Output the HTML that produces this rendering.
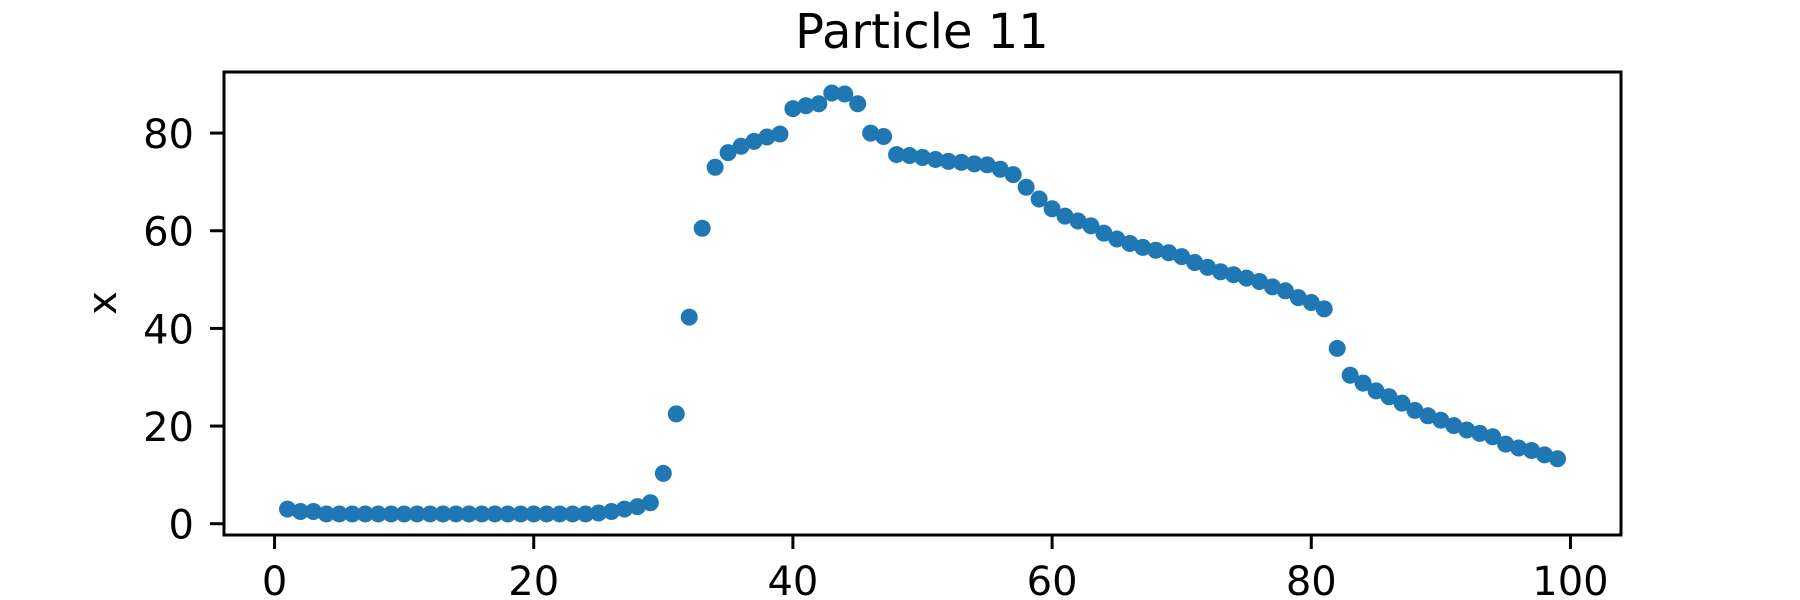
<!DOCTYPE html>
<html><head><meta charset="utf-8"><style>
html,body{margin:0;padding:0;background:#fff;}
svg{display:block;font-family:"DejaVu Sans","Liberation Sans",sans-serif;}
</style></head><body>
<svg id="chart" width="1800" height="600">
<text x="922" y="48" font-size="48" text-anchor="middle">Particle 11</text>
<g id="xticks"></g>
<g id="yticks"></g>
<text transform="translate(116,303) rotate(-90)" font-size="40" text-anchor="middle">x</text>
<g id="points"></g>
<rect x="224" y="72" width="1397" height="463" fill="none" stroke="#000" stroke-width="3"/>
</svg>
<script>
const steps = Array.from({length:99},(_,i)=>i+1);
const values = [3,2.5,2.5,2,2,2,2,2,2,2,2,2,2,2,2,2,2,2,2,2,2,2,2,2,2.2,2.5,3,3.5,4.3,10.3,22.5,42.3,60.5,73,76,77.3,78.3,79.2,79.8,85,85.6,86,88.2,88,86,80,79.3,75.6,75.4,75,74.6,74.2,74,73.7,73.5,72.6,71.5,68.9,66.5,64.5,63,62,61,59.5,58.3,57.4,56.6,56,55.5,54.7,53.5,52.5,51.6,51,50.3,49.6,48.5,47.7,46.3,45.3,44,35.9,30.4,28.8,27.2,26,24.7,23.2,22.1,21.2,20.1,19.2,18.5,17.8,16.3,15.5,15,14.1,13.3];
const xTickLabels = [0,20,40,60,80,100];
const yTickLabels = [0,20,40,60,80];

const NS="http://www.w3.org/2000/svg";
const L=224,R=1621,T=72,B=535;
const xmin=Math.min(...steps),xmax=Math.max(...steps),xm=(xmax-xmin)*0.05;
const ymin=Math.min(...values),ymax=Math.max(...values),ym=(ymax-ymin)*0.05;
const sx=v=>L+(v-(xmin-xm))/((xmax+xm)-(xmin-xm))*(R-L);
const sy=v=>B-(v-(ymin-ym))/((ymax+ym)-(ymin-ym))*(B-T);
function mk(tag,attrs,parent){const e=document.createElementNS(NS,tag);for(const k in attrs)e.setAttribute(k,attrs[k]);parent.appendChild(e);return e;}
const gx=document.getElementById('xticks'),gy=document.getElementById('yticks'),gp=document.getElementById('points');
xTickLabels.forEach(v=>{
  const x=sx(v);
  const t=mk('line',{x1:x,x2:x,y1:B,y2:B+14,stroke:'#000','stroke-width':3},gx);
  
  
  const s=mk('text',{x:x,y:595,'font-size':40,'text-anchor':'middle'},gx);
  s.textContent=v;
  
  
});
yTickLabels.forEach(v=>{
  const y=sy(v);
  const t=mk('line',{x1:L-14,x2:L,y1:y,y2:y,stroke:'#000','stroke-width':3},gy);
  
  
  const s=mk('text',{x:194,y:y+15,'font-size':40,'text-anchor':'end'},gy);
  s.textContent=v;
  
  
});
steps.forEach((s,i)=>{
  const c=mk('circle',{cx:sx(s),cy:sy(values[i]),r:8.5,fill:'#1f77b4'},gp);
  
  
});
</script>
</body></html>
